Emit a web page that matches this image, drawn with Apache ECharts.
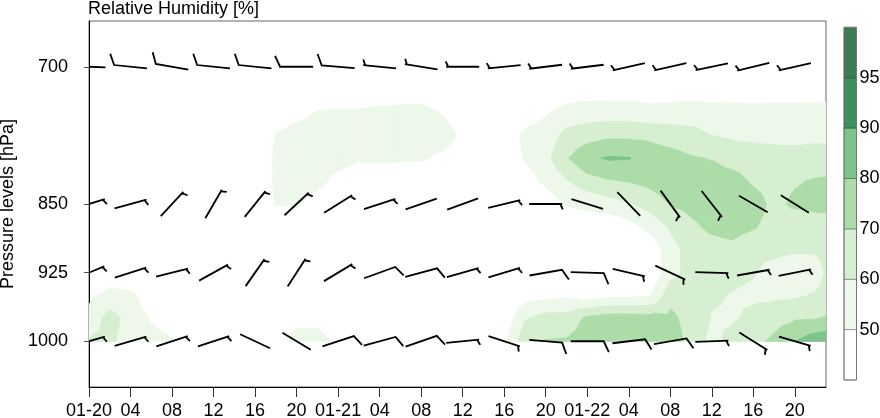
<!DOCTYPE html>
<html><head><meta charset="utf-8">
<script src="https://cdn.jsdelivr.net/npm/echarts@6/dist/echarts.min.js"></script>
<style>html,body{margin:0;padding:0;background:#fff}#c{width:880px;height:418px}</style>
</head><body><div id="c"></div>
<script>
// ---------------- data ----------------
// grid times (hours since 01-20 00:00) and pressure levels (hPa)
const hours = [0,2,4,6,8,10,12,14,16,18,20,22,24,26,28,30,32,34,36,38,40,42,44,46,48,50,52,54,56,58,60,62,64,66,68,70,71];
const levels = [1000,975,950,925,900,875,850,825,800,775,750,725,700];
// relative humidity (%) per level, one value per grid time
const rh1000 = [61,62,55,54,51,44,42,40,40,44,54,54,48,42,40,40,40,40,40,42,47,67,70.5,71,74,76,76,76,75,67,57,63,67,72,80,86,87];
const rh975  = [53,64,56,49,44,40,40,40,40,40,47,47,42,40,40,40,40,40,40,40,42,59,64,64,72,75,75,74,72.5,66,59.5,59,62,66,69,69.5,71];
const rh950  = [48,53,52,44,40,40,40,40,40,40,40,40,40,40,40,40,40,40,40,40,40,46,47,48,45,48,48,49,66,64,61,59.5,58.5,58,58.5,61,63];
const rh925  = [38,44,42,40,40,40,40,40,40,40,40,40,40,40,40,40,40,40,40,40,40,40,40,40,40,40,40,40,57,63,63,62,60.5,56,54,55,61];
const rh900  = [40,40,40,40,40,40,40,40,40,40,40,40,40,40,40,40,40,40,40,40,40,40,40,40,40,40,40,42,56,64,66,67,62,62.5,61,61.5,63];
const rh875  = [40,40,40,40,40,40,40,40,40,44,44,40,40,40,40,40,40,40,40,40,40,38,40,45,45,41,46,53,61.5,68,72,74,71,66,62,65,65];
const rh850  = [40,40,40,40,40,40,40,40,40,50.5,50.5,46,40,40,40,40,40,40,40,40,40,40,44,50.5,52,56,59,64,70.5,73,75,76,75,67,72,73,73];
const rh825  = [40,40,40,40,40,40,40,40,40,52,54,53,47,44,44,44,44,42,40,40,40,45,52,59,66,69,70.5,73,76,75,75,74.5,68.5,66,69,71,71.5];
const rh800  = [40,40,40,40,40,40,40,40,40,52,55,55,54,51,51.5,51,51,48,44,40,42,51,57,69,78,81,80.5,76,74,71,69.5,65.5,64,63.5,63,63.5,63.5];
const rh775  = [40,40,40,40,40,40,40,40,40,50.5,54,55,55,55,56,56,56,55,48,42,45,52,54,63,65.5,68,68,67.5,65,63.5,60,58.5,58,57.5,57.5,58,58];
const rh750  = [40,40,40,40,40,40,40,40,40,44,47,50.5,51,51,52,52.5,53,49.5,44,40,40,45,49,53.5,55,55,55,53,54,54.5,54,54,53,53.5,53.5,54,54];
const rh725  = [38,38,38,38,38,38,38,38,38,40,42,44,44,44,44.5,45,45,42,40,38,38,40,40,44,45,45,45,45,45,45,45,45,45,45,45,45,45];
const rh700  = [35,35,35,35,35,35,35,35,35,35,35,35,35,35,35,35,35,35,35,35,35,35,35,35,35,35,35,35,35,35,35,35,35,35,35,35,35];
const rhRows = [rh1000,rh975,rh950,rh925,rh900,rh875,rh850,rh825,rh800,rh775,rh750,rh725,rh700];

// contour breaks and colours (first colour = below the first break)
const rhBreaks = [50,60,70,80,90,95];
const rhBreakLabels = ['50','60','70','80','90','95'];
const rhColors = ['#ffffff','#edf8ea','#d5efd0','#acdca8','#7cc48c','#3d8f60','#3e7b57'];

// x axis ticks
const timeTicks = [0,4,8,12,16,20,24,28,32,36,40,44,48,52,56,60,64,68];
const timeTickLabels = ['01-20','04','08','12','16','20','01-21','04','08','12','16','20','01-22','04','08','12','16','20'];
// y axis ticks
const pressureTicks = [700,850,925,1000];

// wind barbs: direction the wind comes from (deg, 0 = N) and speed (kt)
const windTimes = [0,4,8,12,16,20,24,28,32,36,40,44,48,52,56,60,64,68];
const windLevels = [700,850,925,1000];
const windDir700  = [272,276,280,276,276,270,275,276,279,270,264,263,263,257,257,258,256,257];
const windSpd700  = [10,10,10,10,10,10,10,5,5,5,5,5,5,5,5,5,5,5];
const windDir850  = [73,75,43,30,39,47,58,72,71,70,76,90,287,136,144,142,120,122];
const windSpd850  = [5,5,5,5,5,5,5,5,2,2,5,5,2,2,5,5,2,2];
const windDir925  = [68,72,76,61,35,33,59,70,75,74,73,80,92,103,115,92,80,79];
const windSpd925  = [5,5,5,5,5,5,5,10,10,5,5,10,10,5,5,5,5,5];
const windDir1000 = [74,74,72,72,115,121,72,75,71,84,108,95,90,83,80,88,122,106];
const windSpd1000 = [5,5,5,5,2,2,10,10,10,5,5,10,10,10,10,5,5,5];
const windDirs = [windDir700,windDir850,windDir925,windDir1000];
const windSpds = [windSpd700,windSpd850,windSpd925,windSpd1000];

// ---------------- rendering ----------------
const FONT = 'Liberation Sans, Arial, Helvetica, sans-serif';
const windData = [];
windLevels.forEach((p, li) => windTimes.forEach((t, ti) => windData.push([t, p, windDirs[li][ti], windSpds[li][ti]])));

function clipTri(tri, t) {
  const out = [];
  for (let q = 0; q < 3; q++) {
    const A = tri[q], B = tri[(q + 1) % 3];
    const ina = A[2] >= t, inb = B[2] >= t;
    if (ina) out.push([A[0], A[1]]);
    if (ina !== inb) {
      const f = (t - A[2]) / (B[2] - A[2]);
      out.push([A[0] + f * (B[0] - A[0]), A[1] + f * (B[1] - A[1])]);
    }
  }
  return out;
}

function renderContours(params, api) {
  const P = levels.map((p, j) => hours.map((h, i) => {
    const c = api.coord([h, p]);
    return [c[0], c[1], rhRows[j][i]];
  }));
  const children = [];
  rhBreaks.forEach((t, k) => {
    const col = rhColors[k + 1];
    for (let j = 0; j < levels.length - 1; j++) {
      for (let i = 0; i < hours.length - 1; i++) {
        const a = P[j][i], b = P[j][i + 1], c = P[j + 1][i + 1], d = P[j + 1][i];
        const m = [(a[0] + b[0] + c[0] + d[0]) / 4, (a[1] + b[1] + c[1] + d[1]) / 4, (a[2] + b[2] + c[2] + d[2]) / 4];
        [[a, b, m], [b, c, m], [c, d, m], [d, a, m]].forEach(tri => {
          if (tri[0][2] < t && tri[1][2] < t && tri[2][2] < t) return;
          const poly = clipTri(tri, t);
          if (poly.length >= 3) children.push({
            type: 'polygon', silent: true,
            shape: { points: poly },
            style: { fill: col, stroke: col, lineWidth: 0.8 }
          });
        });
      }
    }
  });
  return { type: 'group', children };
}

function renderBarb(params, api) {
  const c = api.coord([api.value(0), api.value(1)]);
  const dir = api.value(2) * Math.PI / 180;
  const spd = api.value(3);
  const ux = Math.sin(dir), uy = -Math.cos(dir);
  const L = 33;
  const e = [c[0] + ux * L / 2, c[1] + uy * L / 2];
  const b = [c[0] - ux * L / 2, c[1] - uy * L / 2];
  const th = 65 * Math.PI / 180;
  const fx = ux * Math.cos(th) - uy * Math.sin(th);
  const fy = ux * Math.sin(th) + uy * Math.cos(th);
  const n = Math.round(spd / 5);
  const full = Math.floor(n / 2), half = n % 2;
  const style = { stroke: '#000', lineWidth: 1.8, fill: null, lineJoin: 'miter' };
  const children = [];
  const pts = [b, e];
  if (full > 0) pts.push([e[0] + fx * 12, e[1] + fy * 12]);
  children.push({ type: 'polyline', shape: { points: pts }, style });
  let pos = 0;
  for (let k = 1; k < full; k++) {
    pos += 4;
    const s = [e[0] - ux * pos, e[1] - uy * pos];
    children.push({ type: 'line', shape: { x1: s[0], y1: s[1], x2: s[0] + fx * 12, y2: s[1] + fy * 12 }, style });
  }
  if (half) {
    pos = full > 0 ? pos + 4 : 2;
    const s = [e[0] - ux * pos, e[1] - uy * pos];
    children.push({ type: 'line', shape: { x1: s[0], y1: s[1], x2: s[0] + fx * 6, y2: s[1] + fy * 6 }, style });
  }
  return { type: 'group', children };
}

// colour bar
const cbX = 844, cbW = 12.5, cbTop = 27.3, cbBottom = 380;
const cbSeg = (cbBottom - cbTop) / rhColors.length;
const graphics = [];
rhColors.forEach((col, k) => {
  const y1 = cbBottom - (k + 1) * cbSeg;
  graphics.push({ type: 'rect', shape: { x: cbX, y: y1, width: cbW, height: cbSeg },
    style: { fill: col, stroke: 'rgba(0,0,0,0.3)', lineWidth: 1 } });
});
graphics.push({ type: 'rect', shape: { x: cbX, y: cbTop, width: cbW, height: cbBottom - cbTop },
  style: { fill: null, stroke: '#777', lineWidth: 1 } });
rhBreakLabels.forEach((lab, k) => {
  graphics.push({ type: 'text', x: cbX + cbW + 3, y: cbBottom - (k + 1) * cbSeg,
    style: { text: lab, fill: '#000', font: '18px ' + FONT, textVerticalAlign: 'middle', textAlign: 'left' } });
});

const chart = echarts.init(document.getElementById('c'), null, { renderer: 'canvas' });
chart.setOption({
  animation: false,
  backgroundColor: '#fff',
  title: { text: 'Relative Humidity [%]', left: 88, top: 0, padding: 0,
    textStyle: { fontSize: 18, fontWeight: 'normal', color: '#000', fontFamily: FONT } },
  grid: { left: 89, right: 54, top: 21, bottom: 31, outerBoundsMode: 'none', containLabel: false,
    show: true, borderColor: '#666', borderWidth: 1, backgroundColor: 'transparent' },
  xAxis: {
    type: 'value', min: 0, max: 71, interval: 4,
    axisLine: { show: true, onZero: false, lineStyle: { color: '#000', width: 1 } },
    axisTick: { show: true, length: 10, customValues: timeTicks, lineStyle: { color: '#333' } },
    axisLabel: { customValues: timeTicks, margin: 15, fontSize: 18, color: '#000', fontFamily: FONT,
      formatter: v => timeTickLabels[timeTicks.indexOf(v)] || '' },
    splitLine: { show: false }
  },
  yAxis: {
    type: 'value', inverse: true, min: 650, max: 1050,
    axisLine: { show: true, onZero: false, lineStyle: { color: '#000', width: 1 } },
    axisTick: { show: true, length: 5, customValues: pressureTicks, lineStyle: { color: '#555' } },
    axisLabel: { customValues: pressureTicks, margin: 21, fontSize: 18, color: '#000', fontFamily: FONT,
      formatter: v => String(v) },
    splitLine: { show: false },
    name: 'Pressure levels [hPa]', nameLocation: 'middle', nameGap: 64,
    nameTextStyle: { fontSize: 18, color: '#000', fontFamily: FONT }
  },
  graphic: graphics,
  series: [
    { type: 'custom', name: 'rh', renderItem: renderContours, data: [[0, 700]], clip: true, z: 1, silent: true },
    { type: 'custom', name: 'wind', renderItem: renderBarb, data: windData, clip: true, z: 3, silent: true }
  ]
});
</script></body></html>
